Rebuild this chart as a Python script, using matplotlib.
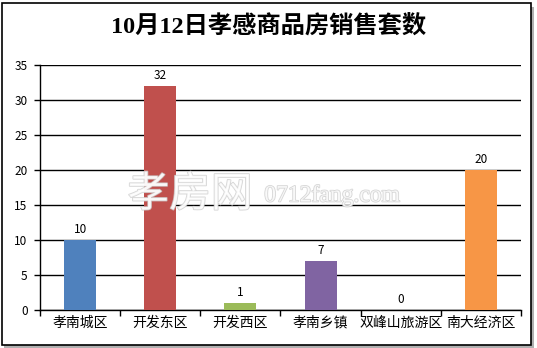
import matplotlib
matplotlib.use("Agg")
import matplotlib.pyplot as plt
import matplotlib.patheffects as pe
from matplotlib.patches import Rectangle

plt.rcParams['font.family'] = ['Noto Sans CJK SC', 'DejaVu Sans']

# data
areas = ['孝南城区', '开发东区', '开发西区', '孝南乡镇', '双峰山旅游区', '南大经济区']
sales = [10, 32, 1, 7, 0, 20]
colors = ['#4F81BD', '#C0504D', '#9BBB59', '#8064A2', '#4F81BD', '#F79646']
yticks = [0, 5, 10, 15, 20, 25, 30, 35]

W, H = 537, 348
fig = plt.figure(figsize=(W / 100, H / 100), dpi=100)

# outer frame with shadow
fig.patches.append(Rectangle((4 / W, 1 - 348 / H), 530 / W, 341 / H, transform=fig.transFigure,
                             facecolor='#b0b0b0', edgecolor='none', zorder=0))
fig.patches.append(Rectangle((2 / W, 1 - 345 / H), 529 / W, 342 / H, transform=fig.transFigure,
                             facecolor='white', edgecolor='black', linewidth=1.2, zorder=1))

ax = fig.add_axes([40 / W, 1 - 310 / H, 481 / W, 245.3 / H])
ax.set_zorder(2)
ax.patch.set_alpha(0)

x = list(range(len(areas)))
ax.bar(x, sales, width=0.4, color=colors, zorder=3)
for xi, v in zip(x, sales):
    ax.text(xi, v + 0.6, str(v), ha='center', va='bottom', fontsize=8.5, zorder=4)

ax.set_xlim(-0.5, len(areas) - 0.5)
ax.set_ylim(0, 35)
ax.set_yticks(yticks)
ax.set_yticklabels([str(t) for t in yticks], fontsize=8.5)
ax.yaxis.grid(True, color='black', linewidth=1)
ax.set_axisbelow(True)

ax.set_xticks(x)
ax.set_xticklabels(areas, fontsize=10)
ax.set_xticks([i - 0.5 for i in range(len(areas) + 1)], minor=True)
ax.tick_params(axis='x', which='major', length=0, pad=4)
ax.tick_params(axis='x', which='minor', length=4, direction='out', width=1)
ax.tick_params(axis='y', length=4, direction='out', width=1, pad=5)

for s in ['top', 'right']:
    ax.spines[s].set_visible(False)
for s in ['left', 'bottom']:
    ax.spines[s].set_linewidth(1)

fig.text(0.5, 1 - 27 / H, '10月12日孝感商品房销售套数', ha='center', va='center',
         fontsize=17.5, fontweight='bold', family=['Liberation Serif', 'Noto Sans CJK SC'])

# watermark
stroke = [pe.withStroke(linewidth=1.2, foreground='#cccccc')]
fig.text(190 / W, 1 - 195 / H, '孝房网', ha='center', va='center', fontsize=30,
         color='white', alpha=0.8, path_effects=stroke, zorder=5)
fig.text(332 / W, 1 - 196 / H, '0712fang.com', ha='center', va='center', fontsize=17,
         color='white', alpha=0.8, family='Liberation Serif', path_effects=stroke, zorder=5)

fig.savefig('out.png', dpi=100)
